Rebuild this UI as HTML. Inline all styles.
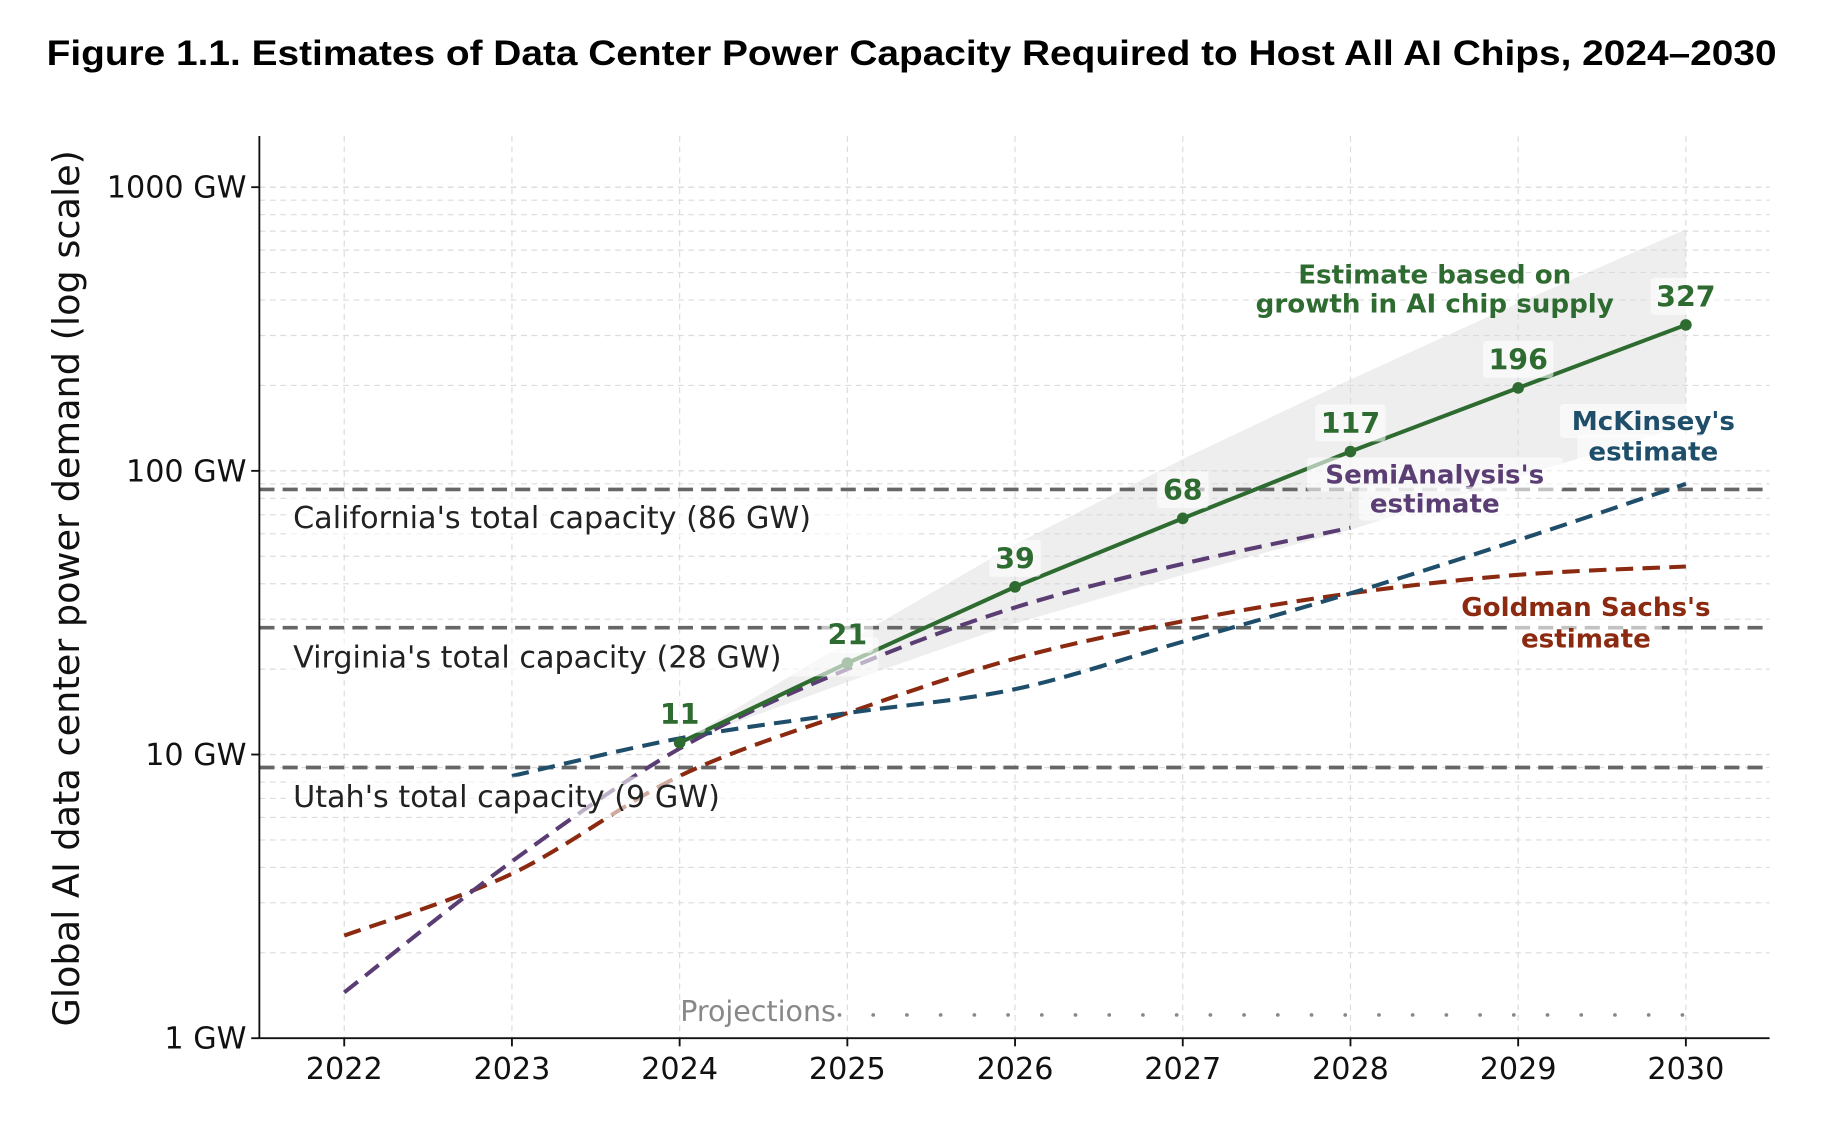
<!DOCTYPE html>
<html><head><meta charset="utf-8">
<style>
html,body{margin:0;padding:0;background:#fff;}
svg{display:block;}
text{font-family:"DejaVu Sans","Liberation Sans",sans-serif;}
</style></head>
<body>
<svg id="chart" width="1822" height="1144" viewBox="0 0 1567 984" xmlns="http://www.w3.org/2000/svg">
<text x="40" y="56" font-weight="bold" font-size="30" fill="#000" textLength="1488" lengthAdjust="spacingAndGlyphs" style="font-family:'Liberation Sans',sans-serif">Figure 1.1. Estimates of Data Center Power Capacity Required to Host All AI Chips, 2024–2030</text>
<g id="grid"></g>
<g id="band"></g>
<g id="refs"></g>
<g id="series"></g>
<g id="labels"></g>
<g id="axes"></g>
</svg>
<script>
const years=[2022,2023,2024,2025,2026,2027,2028,2029,2030];
const chipYears=[2024,2025,2026,2027,2028,2029,2030];
const chipValues=[11,21,39,68,117,196,327];
const bandLow=[11,18,29,43,62,95,145];
const bandHigh=[11,25,55,110,210,390,710];
const semiYears=[2022,2023,2024,2025,2026,2027,2028];
const semiValues=[1.45,4.2,10.5,20,33,47,63];
const gsYears=[2022,2023,2024,2025,2026,2027,2028,2029,2030];
const gsValues=[2.3,3.8,8.4,14,21.8,29.5,37,43,46];
const mckYears=[2023,2024,2025,2026,2027,2028,2029,2030];
const mckValues=[8.4,11.4,14,17,25,37,57,90];
const refValues=[86,28,9];
const refLabels=["California's total capacity (86 GW)","Virginia's total capacity (28 GW)","Utah's total capacity (9 GW)"];
const yTicks=[1,10,100,1000];
const yTickLabels=["1 GW","10 GW","100 GW","1000 GW"];

const NS="http://www.w3.org/2000/svg";
const L=223,R=1522,T=117,B=893;
const X=y=>296+(y-2022)*(1450-296)/8;
const Y=v=>893-Math.log10(v)*244;
function mk(tag,attrs,parent,txt){const e=document.createElementNS(NS,tag);for(const k in attrs)e.setAttribute(k,attrs[k]);if(txt!==undefined)e.textContent=txt;document.getElementById(parent).appendChild(e);return e;}
function smooth(xs,vs){const p=xs.map((x,i)=>[X(x),Y(vs[i])]);let d=`M${p[0][0]},${p[0][1]}`;for(let i=0;i<p.length-1;i++){const p0=p[i-1]||p[i],p1=p[i],p2=p[i+1],p3=p[i+2]||p2;const c1=[p1[0]+(p2[0]-p0[0])/6,p1[1]+(p2[1]-p0[1])/6],c2=[p2[0]-(p3[0]-p1[0])/6,p2[1]-(p3[1]-p1[1])/6];d+=` C${c1[0]},${c1[1]} ${c2[0]},${c2[1]} ${p2[0]},${p2[1]}`;}return d;}

for(let e=0;e<4;e++)for(let m=1;m<10;m++){const v=m*Math.pow(10,e);const y=Y(v);if(y<T)continue;
 const g=mk('line',{x1:L,x2:R,y1:y,y2:y,stroke:'#dcdcdc','stroke-width':m===1?1.2:1,'stroke-dasharray':'5,4'},'grid');
 }
years.forEach(yr=>{const g=mk('line',{x1:X(yr),x2:X(yr),y1:T,y2:B,stroke:'#dcdcdc','stroke-width':1,'stroke-dasharray':'5,4'},'grid');
 });

{let d='';chipYears.forEach((yr,i)=>{d+=(i?'L':'M')+X(yr)+','+Y(bandHigh[i]);});
for(let i=chipYears.length-1;i>=0;i--)d+='L'+X(chipYears[i])+','+Y(bandLow[i]);
const b=mk('path',{d:d+'Z',fill:'#d9d9d9','fill-opacity':0.45},'band');
}

refValues.forEach((v,i)=>{const l=mk('line',{x1:L,x2:R,y1:Y(v),y2:Y(v),stroke:'#666','stroke-width':3.2,'stroke-dasharray':'13,7'},'refs');
 });

const gs=mk('path',{d:smooth(gsYears,gsValues),fill:'none',stroke:'#8b2a10','stroke-width':3.5,'stroke-dasharray':'15,8'},'series');

const mk1=mk('path',{d:smooth(mckYears,mckValues),fill:'none',stroke:'#1f4e6b','stroke-width':3.5,'stroke-dasharray':'15,8'},'series');

const se=mk('path',{d:smooth(semiYears,semiValues),fill:'none',stroke:'#5a3d73','stroke-width':3.5,'stroke-dasharray':'15,8'},'series');

{let d='';chipYears.forEach((yr,i)=>{d+=(i?'L':'M')+X(yr)+','+Y(chipValues[i]);});
const c=mk('path',{d:d,fill:'none',stroke:'#2e6b30','stroke-width':3.5},'series');
}
chipYears.forEach((yr,i)=>{const c=mk('circle',{cx:X(yr),cy:Y(chipValues[i]),r:5,fill:'#2e6b30'},'series');
 });

function lab(txt,x,y,color,size,anchor,weight,box){
 if(box){const w=txt.length*size*(weight==='bold'?0.66:0.58);const x0=anchor==='middle'?x-w/2:x;
  const r=mk('rect',{x:x0-6,y:y-size,width:w+12,height:size*1.3,fill:'#fff','fill-opacity':0.6,rx:3},'labels');
  }
 const t=mk('text',{x:x,y:y,fill:color,'font-size':size,'text-anchor':anchor,'font-weight':weight},'labels',txt);
 return t;}
const refY=[454,574,694];
refLabels.forEach((s,i)=>lab(s,252,refY[i],'#222',26,'start','normal',true));
chipYears.forEach((yr,i)=>lab(String(chipValues[i]),X(yr),Y(chipValues[i])-16,'#2e6b30',24.5,'middle','bold',true));
lab('Estimate based on',1234,244,'#2e6b30',22.5,'middle','bold',false);
lab('growth in AI chip supply',1234,269,'#2e6b30',22.5,'middle','bold',false);
lab("McKinsey's",1422,370,'#1f4e6b',22.5,'middle','bold',true);
lab('estimate',1422,396,'#1f4e6b',22.5,'middle','bold',true);
lab("SemiAnalysis's",1234,416,'#5a3d73',22.5,'middle','bold',true);
lab('estimate',1234,441,'#5a3d73',22.5,'middle','bold',true);
lab("Goldman Sachs's",1364,530,'#8b2a10',22.5,'middle','bold',true);
lab('estimate',1364,557,'#8b2a10',22.5,'middle','bold',true);
lab('Projections',585,878,'#888',24.5,'start','normal',false);
for(let x=722;x<=1452;x+=29){const c=mk('circle',{cx:x,cy:873,r:1.6,fill:'#888'},'labels');
 }

const la=mk('line',{x1:L,x2:L,y1:T,y2:B,stroke:'#111','stroke-width':1.6},'axes');

const ba=mk('line',{x1:L,x2:R,y1:B,y2:B,stroke:'#111','stroke-width':1.6},'axes');

yTicks.forEach((v,i)=>{mk('line',{x1:L-7,x2:L,y1:Y(v),y2:Y(v),stroke:'#111','stroke-width':1.6},'axes');
 const t=mk('text',{x:212,y:Y(v)+9,'text-anchor':'end','font-size':26,fill:'#111'},'axes',yTickLabels[i]);
 });
years.forEach(yr=>{mk('line',{x1:X(yr),x2:X(yr),y1:B,y2:B+7,stroke:'#111','stroke-width':1.6},'axes');
 const t=mk('text',{x:X(yr),y:928,'text-anchor':'middle','font-size':26,fill:'#111'},'axes',String(yr));
 });
const yt=mk('text',{x:0,y:0,transform:'translate(68,506) rotate(-90)','text-anchor':'middle','font-size':31.5,fill:'#111'},'axes','Global AI data center power demand (log scale)');

</script>
</body></html>
